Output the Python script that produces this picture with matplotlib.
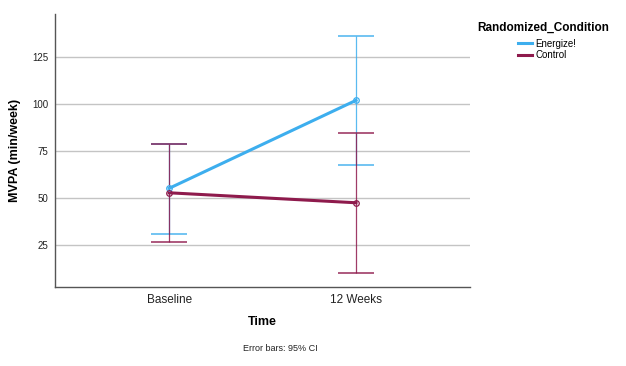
import matplotlib
matplotlib.use("Agg")
import matplotlib.pyplot as plt
import numpy as np

plt.rcParams['font.family'] = ['Liberation Sans', 'DejaVu Sans']

times = ["Baseline", "12 Weeks"]
groups = ["Energize!", "Control"]
means = {"Energize!": [55.2, 102.0], "Control": [52.8, 47.5]}
ci_low = {"Energize!": [30.7, 67.6], "Control": [26.8, 10.3]}
ci_high = {"Energize!": [79.0, 136.5], "Control": [78.8, 84.4]}
colors = {"Energize!": "#3DAEEE", "Control": "#8E1A4C"}
yticks = [25, 50, 75, 100, 125]

fig = plt.figure(figsize=(6.26, 3.66), dpi=100)
ax = fig.add_axes([0.088, 0.216, 0.663, 0.746])

x = np.arange(len(times))
for g in groups:
    m = np.array(means[g])
    lo = m - np.array(ci_low[g])
    hi = np.array(ci_high[g]) - m
    ax.errorbar(x, m, yerr=[lo, hi], fmt='none', ecolor=colors[g], elinewidth=0.9,
                capsize=13, capthick=1.2, zorder=3, alpha=0.85)
    ax.plot(x, m, color=colors[g], lw=2.2, label=g, zorder=4)
    ax.plot(x, m, 'o', mfc='none', mec=colors[g], ms=4, mew=0.9, zorder=5)

ax.set_xlim(-0.611, 1.611)
ax.set_ylim(2.7, 148)
ax.set_xticks(x)
ax.set_xticklabels(times, fontsize=8.5, color='#222222')
ax.set_yticks(yticks)
ax.set_yticklabels([str(t) for t in yticks], fontsize=7, color='#222222')
ax.tick_params(length=0, pad=5)
ax.yaxis.grid(True, color='#C4C4C4', lw=1.0)
ax.set_axisbelow(True)
for s in ['top', 'right']:
    ax.spines[s].set_visible(False)
for s in ['left', 'bottom']:
    ax.spines[s].set_color('#555555')
    ax.spines[s].set_linewidth(1.0)

ax.set_ylabel("MVPA (min/week)", fontsize=9, fontweight='bold', labelpad=8)
fig.text(0.419, 0.12, "Time", fontsize=9, fontweight='bold', ha='center', va='center')
fig.text(0.448, 0.048, "Error bars: 95% CI", fontsize=6.5, ha='center', va='center', color='#222222')

fig.text(0.867, 0.923, "Randomized_Condition", fontsize=8.5, fontweight='bold',
         ha='center', va='center')
leg = fig.legend(loc='upper left', bbox_to_anchor=(0.813, 0.918), frameon=False,
                 fontsize=7, handlelength=1.5, handletextpad=0.3, labelspacing=0.12)

fig.savefig("out.png", dpi=100)
